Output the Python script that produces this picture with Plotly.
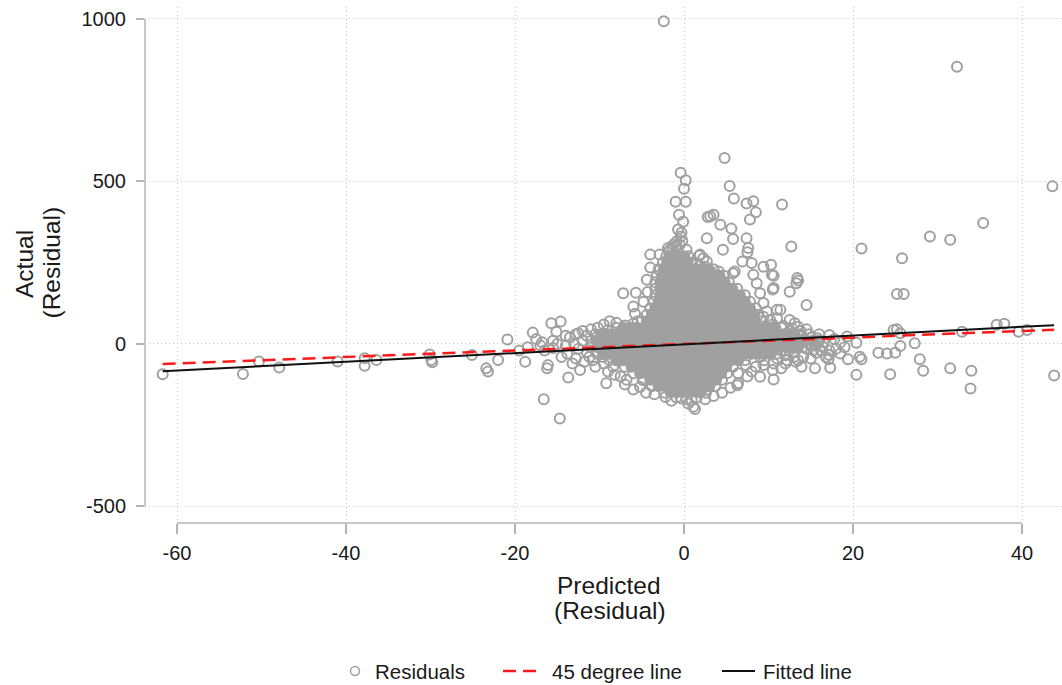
import plotly.graph_objects as go

# ---------------- data ----------------
x_ticks = [-60, -40, -20, 0, 20, 40]
x_tick_labels = ["-60", "-40", "-20", "0", "20", "40"]
y_ticks = [-500, 0, 500, 1000]
y_tick_labels = ["-500", "0", "500", "1000"]

# dense core of the residual cloud: one y level per row, x positions per row
core_y_levels = [270, 250, 230, 210, 190, 170, 150, 130, 110, 90, 70, 50, 30, 10,
                 -10, -30, -50, -70, -90, -110, -130, -148]
core_x_rows = [
    [-1.6, -0.8, 0.0],
    [-2.0, -1.2, -0.4, 0.4],
    [-2.4, -1.6, -0.8, 0.0, 0.8, 1.6, 2.4, 2.9],
    [-2.6, -1.8, -1.0, -0.2, 0.6, 1.4, 2.2, 3.0, 3.8, 4.2],
    [-2.8, -2.0, -1.2, -0.4, 0.4, 1.2, 2.0, 2.8, 3.6, 4.4, 4.8],
    [-2.8, -2.0, -1.2, -0.4, 0.4, 1.2, 2.0, 2.8, 3.6, 4.4, 5.2, 5.7],
    [-2.8, -2.0, -1.2, -0.4, 0.4, 1.2, 2.0, 2.8, 3.6, 4.4, 5.2, 6.0, 6.6],
    [-3.0, -2.2, -1.4, -0.6, 0.2, 1.0, 1.8, 2.6, 3.4, 4.2, 5.0, 5.8, 6.6, 7.2],
    [-3.4, -2.6, -1.8, -1.0, -0.2, 0.6, 1.4, 2.2, 3.0, 3.8, 4.6, 5.4, 6.2, 7.0, 7.8],
    [-3.8, -3.0, -2.2, -1.4, -0.6, 0.2, 1.0, 1.8, 2.6, 3.4, 4.2, 5.0, 5.8, 6.6, 7.4, 8.2],
    [-4.4, -3.6, -2.8, -2.0, -1.2, -0.4, 0.4, 1.2, 2.0, 2.8, 3.6, 4.4, 5.2, 6.0, 6.8, 7.6, 8.4],
    [-7.2, -6.4, -5.6, -4.8, -4.0, -3.2, -2.4, -1.6, -0.8, 0.0, 0.8, 1.6, 2.4, 3.2, 4.0, 4.8,
     5.6, 6.4, 7.2, 8.0, 8.8, 9.6, 10.4, 10.8],
    [-9.8, -9.0, -8.2, -7.4, -6.6, -5.8, -5.0, -4.2, -3.4, -2.6, -1.8, -1.0, -0.2, 0.6, 1.4,
     2.2, 3.0, 3.8, 4.6, 5.4, 6.2, 7.0, 7.8, 8.6, 9.4, 10.2, 11.0, 11.8, 12.6, 13.1],
    [-10.4, -9.6, -8.8, -8.0, -7.2, -6.4, -5.6, -4.8, -4.0, -3.2, -2.4, -1.6, -0.8, 0.0, 0.8,
     1.6, 2.4, 3.2, 4.0, 4.8, 5.6, 6.4, 7.2, 8.0, 8.8, 9.6, 10.4, 11.2, 12.0, 12.8, 13.6, 14.4, 15.2],
    [-10.2, -9.4, -8.6, -7.8, -7.0, -6.2, -5.4, -4.6, -3.8, -3.0, -2.2, -1.4, -0.6, 0.2, 1.0,
     1.8, 2.6, 3.4, 4.2, 5.0, 5.8, 6.6, 7.4, 8.2, 9.0, 9.8, 10.6, 11.4, 12.2, 13.0, 13.4],
    [-9.6, -8.8, -8.0, -7.2, -6.4, -5.6, -4.8, -4.0, -3.2, -2.4, -1.6, -0.8, 0.0, 0.8, 1.6,
     2.4, 3.2, 4.0, 4.8, 5.6, 6.4, 7.2, 8.0, 8.8, 9.6, 10.3],
    [-8.0, -7.2, -6.4, -5.6, -4.8, -4.0, -3.2, -2.4, -1.6, -0.8, 0.0, 0.8, 1.6, 2.4, 3.2, 4.0,
     4.8, 5.6, 6.4],
    [-6.2, -5.4, -4.6, -3.8, -3.0, -2.2, -1.4, -0.6, 0.2, 1.0, 1.8, 2.6, 3.4, 4.2, 5.0],
    [-5.2, -4.4, -3.6, -2.8, -2.0, -1.2, -0.4, 0.4, 1.2, 2.0, 2.8, 3.6, 4.4],
    [-4.0, -3.2, -2.4, -1.6, -0.8, 0.0, 0.8, 1.6, 2.4, 3.2, 3.8],
    [-3.0, -2.2, -1.4, -0.6, 0.2, 1.0, 1.8, 2.6, 3.0],
    [-1.6, -0.8, 0.0, 0.8, 1.6, 2.0],
]

# individually visible residual points (predicted, actual)
outlier_points = [
    # far left
    (-61.7, -93), (-52.2, -92), (-50.3, -54), (-47.9, -72), (-41.0, -54), (-37.8, -44),
    (-37.8, -67), (-36.4, -49), (-30.1, -32), (-29.9, -49), (-29.8, -56), (-25.1, -34),
    (-23.4, -75), (-23.2, -85), (-22.0, -49), (-20.9, 14),
    # left band
    (-17.9, 35), (-15.7, 64), (-14.6, 69), (-15.1, 38), (-18.8, -55), (-16.1, -65),
    (-16.2, -75), (-13.7, -103), (-16.6, -170), (-14.7, -229), (-12.3, -80), (-9.2, -121),
    (-12.5, 33), (-13.5, 20), (-13.0, 0), (-12.5, -15), (-14.0, -5), (-12.0, 10),
    (-11.5, -25), (-13.8, -30), (-14.5, -40), (-12.8, -45), (-11.2, -40), (-15.0, 0),
    (-15.5, -12), (-16.5, -20), (-17.0, -5), (-18.5, -10), (-19.5, -20), (-14.0, 25),
    (-12.8, 30), (-11.5, 25), (-15.5, 10), (-16.8, 5), (-17.5, 15), (-13.2, -60),
    (-11.8, -55), (-10.5, -70), (-10.8, -50), (-11.0, 45), (-12.0, 40), (-10.2, 50),
    (-9.5, 60), (-8.8, 70), (-8.0, 65),
    # lower left edge
    (-9.5, -60), (-8.4, -70), (-9.0, -85), (-8.2, -95), (-7.5, -100), (-6.8, -110),
    (-7.0, -125), (-5.2, -132), (-6.0, -140), (-4.8, -111), (-4.5, -150), (-3.5, -155),
    (-2.2, -163), (-0.3, -168), (-1.5, -175),
    # bottom
    (1.3, -200), (1.1, -193), (0.9, -173), (0.5, -183), (2.5, -170), (3.5, -160),
    (4.5, -150), (5.5, -135), (6.3, -127), (6.4, -121), (6.4, -90), (7.5, -100),
    (8.0, -85), (9.0, -101), (10.6, -109), (10.5, -80), (11.5, -75), (12.0, -60),
    (13.5, -50), (15.0, -45), (8.5, -70), (7.3, -65), (9.4, -65), (10.6, -60),
    (9.5, -50), (11.0, -45), (12.0, -35), (13.9, -70), (15.5, -75), (17.3, -73), (14.1, -39),
    # right band
    (13.0, -25), (14.5, -15), (15.5, -5), (16.5, 5), (15.8, 18), (14.8, 30), (13.8, 40),
    (12.8, 48), (11.8, 55), (10.5, 60), (16.2, -20), (12.0, 20), (12.8, 5), (13.5, -10),
    (14.2, 15), (14.8, 0), (15.3, -20), (15.8, 10), (16.4, -8), (13.0, -40), (12.2, -50),
    (11.5, -20), (12.5, 30), (13.8, 25), (14.5, 45), (13.2, -55), (16.8, -40), (17.8, 15),
    (18.5, 5), (19.0, -10), (18.0, -15), (16.0, 30), (17.2, 28), (17.2, -19), (17.2, -34),
    (17.1, -47), (15.7, -27), (18.5, -29), (19.4, -47), (20.8, -39), (21.0, -47),
    (19.3, 23), (20.4, 4), (20.4, -95), (24.4, -93),
    # far right
    (43.6, 485), (35.4, 372), (29.1, 331), (31.5, 321), (21.0, 294), (25.8, 264),
    (25.2, 154), (26.0, 154), (37.0, 59), (37.9, 62), (40.6, 43), (39.6, 38), (32.9, 38),
    (24.8, 43), (25.2, 45), (25.6, 33), (27.3, 2), (25.6, -6), (23.0, -27), (24.0, -29),
    (25.0, -27), (27.9, -47), (28.3, -82), (31.5, -75), (34.0, -82), (33.9, -137),
    (43.8, -97), (32.3, 853),
    # upper right of the core
    (13.1, 64), (13.5, 53), (11.4, 105), (14.5, 120), (12.5, 161), (13.4, 203), (13.3, 187),
    (13.5, 195), (10.5, 168), (10.6, 210), (10.4, 213), (10.6, 172), (12.7, 300), (11.6, 429),
    (10.3, 244), (9.4, 238), (8.6, 187), (9.0, 156), (9.4, 126), (9.8, 100), (11.0, 105),
    (12.5, 74), (10.2, 74), (11.0, 79), (9.4, 84),
    # spike and upper part of the cloud
    (-2.4, 993), (4.8, 572), (-0.4, 527), (0.2, 504), (0.0, 478), (-1.0, 438), (0.2, 438),
    (-0.6, 398), (-0.1, 376), (-0.7, 352), (-0.3, 342), (-0.4, 331), (-0.9, 315),
    (-0.2, 318), (-1.3, 305), (5.4, 486), (5.9, 448), (7.4, 432), (8.2, 439), (8.5, 405),
    (7.8, 383), (2.8, 391), (3.5, 398), (3.1, 393), (4.3, 367), (5.6, 355), (5.8, 323),
    (2.7, 325), (7.4, 325), (4.6, 290), (7.6, 295), (7.5, 282), (1.8, 272), (2.3, 264),
    (2.7, 254), (6.9, 254), (8.0, 249), (3.5, 208), (3.9, 212), (5.8, 218), (8.2, 213),
    (6.0, 223), (4.1, 223), (2.1, 223), (1.5, 218), (1.9, 275), (-4.0, 275), (-2.9, 275),
    (-1.9, 295), (-4.4, 198), (-2.9, 228), (-7.2, 156), (-5.7, 158), (-5.8, 93),
    (-7.2, 43), (-4.0, 235), (-6.0, 115), (-5.5, 70), (-4.8, 130), (-4.3, 160),
    # rim of the dense core
    (-1.7, 290), (0.3, 290), (-1.0, 300), (-0.5, 305), (-1.4, 295), (-2.1, 270), (0.5, 270),
    (-2.5, 250), (0.9, 250), (1.5, 245), (-3.0, 230), (3.5, 230), (2.5, 238), (1.8, 240),
    (-3.2, 210), (4.7, 210), (-3.4, 190), (5.3, 190), (-3.4, 170), (6.3, 170), (-3.4, 150),
    (7.2, 150), (-3.6, 130), (7.8, 130), (-4.0, 110), (8.5, 110), (-4.4, 90), (8.8, 90),
    (-5.0, 70), (9.2, 70), (-6.0, 62), (-7.0, 57), (-8.0, 50), (11.5, 50), (-9.0, 42),
    (12.5, 40), (-10.5, 30), (13.8, 30), (15.0, 20), (-11.0, 10), (16.0, 10), (-11.0, -10),
    (14.0, -10), (15.0, -5), (-10.3, -30), (11.0, -30), (12.5, -20), (-8.8, -50), (7.2, -50),
    (-9.6, -40), (9.0, -40), (-7.0, -70), (5.8, -70), (-6.0, -90), (5.1, -90), (-4.9, -110),
    (4.5, -110), (-3.8, -130), (3.7, -130), (-2.3, -150), (2.6, -150), (-0.9, -165),
    (1.5, -165), (0.3, -170),
]

# reference lines
deg45_x = [-61.7, 43.8]
deg45_y = [-61.7, 43.8]
fit_x = [-61.7, 43.8]
fit_y = [-84.0, 58.0]

legend_labels = ["Residuals", "45 degree line", "Fitted line"]
x_title = ["Predicted", "(Residual)"]
y_title = ["Actual", "(Residual)"]

# ---------------- figure ----------------
W, H = 1062, 685
L, R, T, B = 145, 0, 7, 162
PW, PH = W - L - R, H - T - B

FONT = "Liberation Sans, Arial, sans-serif"
TXT = "#1a1a1a"
GRAY = "#a0a0a0"
AX = "#b4b4b4"


def px_x(p):
    return (p - L) / PW


def px_y(p):
    return (H - B - p) / PH


core_x, core_y = [], []
for yv, xs in zip(core_y_levels, core_x_rows):
    for xv in xs:
        core_x.append(xv)
        core_y.append(yv)

out_x = [p[0] for p in outlier_points]
out_y = [p[1] for p in outlier_points]

fig = go.Figure()
fig.add_trace(go.Scatter(
    x=core_x, y=core_y, mode="markers", name=legend_labels[0], legendgroup="res",
    showlegend=False, hoverinfo="skip",
    marker=dict(symbol="circle", size=10, color=GRAY, line=dict(color=GRAY, width=2)),
))
fig.add_trace(go.Scatter(
    x=out_x, y=out_y, mode="markers", name=legend_labels[0], legendgroup="res",
    showlegend=False,
    marker=dict(symbol="circle-open", size=10, color=GRAY, line=dict(color=GRAY, width=2)),
))
fig.add_trace(go.Scatter(
    x=deg45_x, y=deg45_y, mode="lines", name=legend_labels[1], showlegend=False,
    line=dict(color="#ff1a1a", width=2.5, dash="13px,7px"),
))
fig.add_trace(go.Scatter(
    x=fit_x, y=fit_y, mode="lines", name=legend_labels[2], showlegend=False,
    line=dict(color="#111111", width=2),
))

axis_common = dict(
    showline=False, zeroline=False, showgrid=True, gridcolor="#c8c8c8",
    griddash="1px,3px", gridwidth=1, ticks="outside", tickcolor=AX, tickwidth=1.5,
    tickfont=dict(family=FONT, size=20, color=TXT),
)
fig.update_xaxes(range=[-63.79, 44.73], tickvals=x_ticks, ticktext=x_tick_labels,
                 ticklen=10, ticklabelstandoff=2, **axis_common)
fig.update_yaxes(range=[-550.8, 1036.9], tickvals=y_ticks, ticktext=y_tick_labels,
                 ticklen=8, ticklabelstandoff=6, **axis_common)

shapes = [
    # axis lines spanning the tick range only (Stata style)
    dict(type="line", xref="x", yref="paper", x0=x_ticks[0], x1=x_ticks[-1], y0=0, y1=0,
         line=dict(color=AX, width=1.5), layer="above"),
    dict(type="line", xref="paper", yref="y", x0=0, x1=0, y0=y_ticks[0], y1=y_ticks[-1],
         line=dict(color=AX, width=1.5), layer="above"),
    # legend keys
    dict(type="circle", xref="paper", yref="paper", x0=px_x(350.5), x1=px_x(359.5),
         y0=px_y(675.5), y1=px_y(666.5), line=dict(color=GRAY, width=1.5)),
    dict(type="line", xref="paper", yref="paper", x0=px_x(503), x1=px_x(536),
         y0=px_y(671), y1=px_y(671), line=dict(color="#ff1a1a", width=2.5, dash="13px,7px")),
    dict(type="line", xref="paper", yref="paper", x0=px_x(722), x1=px_x(755),
         y0=px_y(671), y1=px_y(671), line=dict(color="#111111", width=2)),
]

ann = []
tf = dict(family=FONT, size=24.5, color=TXT)
lf = dict(family=FONT, size=20.5, color=TXT)
ann.append(dict(text=x_title[0], x=px_x(608.5), y=px_y(585), xref="paper", yref="paper",
                showarrow=False, xanchor="center", yanchor="middle", font=tf))
ann.append(dict(text=x_title[1], x=px_x(609.7), y=px_y(610), xref="paper", yref="paper",
                showarrow=False, xanchor="center", yanchor="middle", font=tf))
ann.append(dict(text=y_title[0], x=px_x(24), y=px_y(264), xref="paper", yref="paper",
                showarrow=False, xanchor="center", yanchor="middle", textangle=-90, font=tf))
ann.append(dict(text=y_title[1], x=px_x(51), y=px_y(262.5), xref="paper", yref="paper",
                showarrow=False, xanchor="center", yanchor="middle", textangle=-90, font=tf))
for lab, xp in zip(legend_labels, [373, 550, 761]):
    ann.append(dict(text=lab, x=px_x(xp), y=px_y(671), xref="paper", yref="paper",
                    showarrow=False, xanchor="left", yanchor="middle", font=lf))

fig.update_layout(
    width=W, height=H, margin=dict(l=L, r=R, t=T, b=B, pad=0),
    plot_bgcolor="white", paper_bgcolor="white", showlegend=False,
    shapes=shapes, annotations=ann,
    font=dict(family=FONT, color=TXT),
)

fig.write_html("out.html", post_script="document.body.style.margin='0';")
